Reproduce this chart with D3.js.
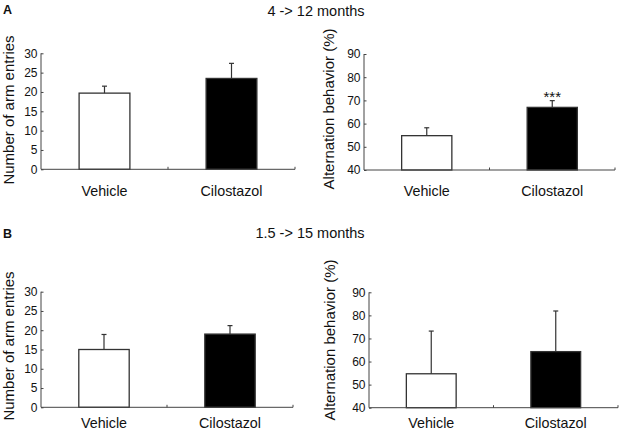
<!DOCTYPE html>
<html>
<head>
<meta charset="utf-8">
<script src="https://cdn.jsdelivr.net/npm/d3@7"></script>
<style>
  html, body { margin: 0; padding: 0; background: #fff; }
  svg { display: block; font-family: "Liberation Sans", Arial, sans-serif; }
</style>
</head>
<body>
<svg id="chart" width="620" height="433"></svg>
<script>
// ---- data ----
const categories = ["Vehicle", "Cilostazol"];
const fills = ["#ffffff", "#000000"];

const entries_4_12 = [19.7, 23.5];
const entriesErr_4_12 = [21.5, 27.4];
const entriesSig_4_12 = ["", ""];
const alternation_4_12 = [54.8, 67.0];
const alternationErr_4_12 = [58.2, 69.9];
const alternationSig_4_12 = ["", "***"];

const entries_15_15 = [15.0, 19.0];
const entriesErr_15_15 = [18.9, 21.2];
const entriesSig_15_15 = ["", ""];
const alternation_15_15 = [54.7, 64.3];
const alternationErr_15_15 = [73.2, 81.9];
const alternationSig_15_15 = ["", ""];

const entriesTicks = [0, 5, 10, 15, 20, 25, 30];
const alternationTicks = [40, 50, 60, 70, 80, 90];

const titleA = "4 -> 12 months";
const titleB = "1.5 -> 15 months";
const yTitleEntries = "Number of arm entries";
const yTitleAlt = "Alternation behavior (%)";

// ---- layout ----
const panels = [
  { x0: 41, x1: 295, yTop: 53.3, yBot: 169.3, dom: [0, 30], ticks: entriesTicks,
    vals: entries_4_12, errs: entriesErr_4_12, sig: entriesSig_4_12, ytitle: yTitleEntries,
    tx: 14, ty: 110, labY: 196 },
  { x0: 364, x1: 615, yTop: 54, yBot: 170, dom: [40, 90], ticks: alternationTicks,
    vals: alternation_4_12, errs: alternationErr_4_12, sig: alternationSig_4_12, ytitle: yTitleAlt,
    tx: 334, ty: 109, labY: 196 },
  { x0: 41, x1: 293, yTop: 291.7, yBot: 407.3, dom: [0, 30], ticks: entriesTicks,
    vals: entries_15_15, errs: entriesErr_15_15, sig: entriesSig_15_15, ytitle: yTitleEntries,
    tx: 14, ty: 346, labY: 428 },
  { x0: 369, x1: 618, yTop: 292.3, yBot: 407.7, dom: [40, 90], ticks: alternationTicks,
    vals: alternation_15_15, errs: alternationErr_15_15, sig: alternationSig_15_15, ytitle: yTitleAlt,
    tx: 335, ty: 340, labY: 428 }
];

const svg = d3.select("#chart");
const textColor = "#111";
const axisColor = "#444";

// panel letters and titles
svg.append("text").attr("x", 3).attr("y", 14).attr("font-size", 12.5).attr("font-weight", "bold")
  .attr("fill", textColor).text("A");
svg.append("text").attr("x", 3).attr("y", 238).attr("font-size", 12.5).attr("font-weight", "bold")
  .attr("fill", textColor).text("B");
svg.append("text").attr("x", 316).attr("y", 15.5).attr("font-size", 14.5).attr("text-anchor", "middle")
  .attr("fill", textColor).text(titleA);
svg.append("text").attr("x", 310).attr("y", 238).attr("font-size", 14.5).attr("text-anchor", "middle")
  .attr("fill", textColor).text(titleB);

panels.forEach(p => {
  const g = svg.append("g");
  const x = d3.scaleBand().domain(categories).range([p.x0, p.x1])
    .paddingInner(0.6).paddingOuter(0.3);
  const y = d3.scaleLinear().domain(p.dom).range([p.yBot, p.yTop]);

  // y axis (ticks inward)
  const yAxis = d3.axisRight(y).tickValues(p.ticks).tickSize(2.5).tickFormat(() => "");
  const ya = g.append("g").attr("transform", `translate(${p.x0},0)`).call(yAxis);
  ya.select(".domain").attr("stroke", axisColor).attr("stroke-width", 1)
    .attr("d", `M0,${p.yTop}V${p.yBot}`);
  ya.selectAll(".tick line").attr("stroke", axisColor);

  // tick labels
  g.selectAll(".ylab").data(p.ticks).enter().append("text")
    .attr("x", p.x0 - 3.5).attr("y", d => y(d)).attr("dy", "0.36em")
    .attr("text-anchor", "end").attr("font-size", 12).attr("fill", textColor)
    .text(d => d);

  // bars
  g.selectAll(".bar").data(p.vals).enter().append("rect")
    .attr("x", (d, i) => x(categories[i]))
    .attr("width", x.bandwidth())
    .attr("y", d => y(d))
    .attr("height", d => y(p.dom[0]) - y(d))
    .attr("fill", (d, i) => fills[i])
    .attr("stroke", "#333").attr("stroke-width", 1.3);

  // error bars
  p.errs.forEach((e, i) => {
    const cx = x(categories[i]) + x.bandwidth() / 2;
    g.append("line").attr("x1", cx).attr("x2", cx).attr("y1", y(p.vals[i])).attr("y2", y(e))
      .attr("stroke", "#333").attr("stroke-width", 1.2);
    g.append("line").attr("x1", cx - 2.5).attr("x2", cx + 2.5).attr("y1", y(e)).attr("y2", y(e))
      .attr("stroke", "#333").attr("stroke-width", 1.2);
    if (p.sig[i]) {
      g.append("text").attr("x", cx).attr("y", y(e) + 1).attr("text-anchor", "middle")
        .attr("font-size", 15).attr("fill", textColor).text(p.sig[i]);
    }
  });

  // x axis with small upward ticks at the band boundaries
  g.append("line").attr("x1", p.x0).attr("x2", p.x1).attr("y1", p.yBot).attr("y2", p.yBot)
    .attr("stroke", axisColor).attr("stroke-width", 1);
  categories.forEach((c, i) => {
    const txx = x(c) - x.step() * x.paddingOuter() + x.step();
    g.append("line").attr("x1", txx).attr("x2", txx).attr("y1", p.yBot).attr("y2", p.yBot - 2.5)
      .attr("stroke", axisColor).attr("stroke-width", 1);
  });

  // category labels
  g.selectAll(".xlab").data(categories).enter().append("text")
    .attr("x", d => x(d) + x.bandwidth() / 2).attr("y", p.labY)
    .attr("text-anchor", "middle").attr("font-size", 14.3).attr("fill", textColor)
    .text(d => d);

  // y title
  g.append("text").attr("transform", `translate(${p.tx},${p.ty}) rotate(-90)`)
    .attr("text-anchor", "middle").attr("font-size", 15).attr("fill", textColor)
    .text(p.ytitle);
});
</script>
</body>
</html>
